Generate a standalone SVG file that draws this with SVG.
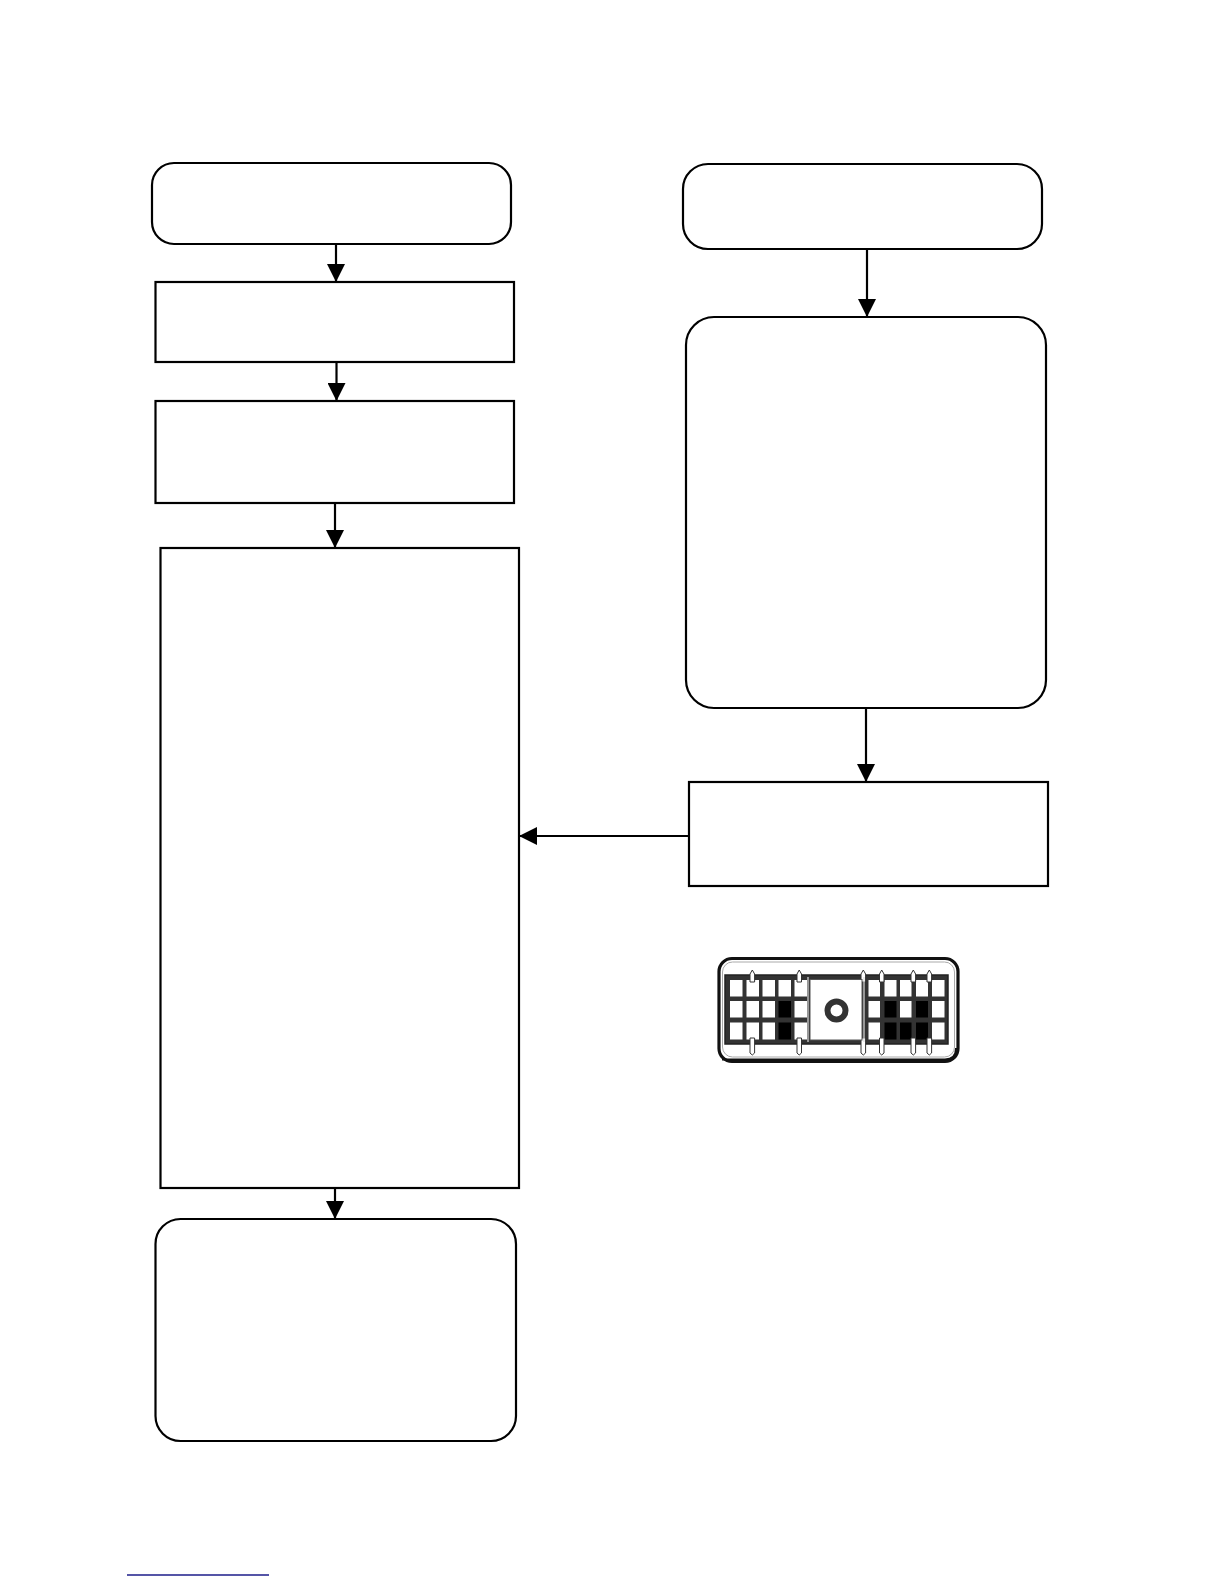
<svg xmlns="http://www.w3.org/2000/svg" width="1224" height="1584" viewBox="0 0 1224 1584">
<style>
.box{fill:#fff;stroke:#000;stroke-width:2.2}
.edge{fill:none;stroke:#000;stroke-width:2.2}
.cell{fill:#fff}
.blk{fill:#000}
.peg{fill:#fff;stroke:#333;stroke-width:1}
</style>
<defs>
<marker id="arr" markerUnits="userSpaceOnUse" markerWidth="18" markerHeight="18" refX="17" refY="9" orient="auto">
<path d="M0,0 L18,9 L0,18 z" fill="#000"/>
</marker>
</defs>
<rect width="1224" height="1584" fill="#fff"/>
<g id="n1"><rect class="box" x="152" y="163" width="359" height="81" rx="22"/></g>
<g id="n2"><rect class="box" x="155.5" y="282" width="358.5" height="80"/></g>
<g id="n3"><rect class="box" x="155.5" y="401" width="358.5" height="102"/></g>
<g id="n4"><rect class="box" x="160.5" y="548" width="358.5" height="640"/></g>
<g id="n5"><rect class="box" x="155.5" y="1219" width="360.5" height="222" rx="25"/></g>
<g id="n6"><rect class="box" x="683" y="164" width="359" height="85" rx="25"/></g>
<g id="n7"><rect class="box" x="686" y="317" width="360" height="391" rx="28"/></g>
<g id="n8"><rect class="box" x="689" y="782" width="359" height="104"/></g>
<g id="connectors">
<line class="edge" x1="336" y1="244" x2="336" y2="281" marker-end="url(#arr)"/>
<line class="edge" x1="336.5" y1="362" x2="336.5" y2="400" marker-end="url(#arr)"/>
<line class="edge" x1="335" y1="503" x2="335" y2="547" marker-end="url(#arr)"/>
<line class="edge" x1="335" y1="1188" x2="335" y2="1218" marker-end="url(#arr)"/>
<line class="edge" x1="867" y1="249" x2="867" y2="316" marker-end="url(#arr)"/>
<line class="edge" x1="866" y1="708" x2="866" y2="781" marker-end="url(#arr)"/>
<line class="edge" x1="689" y1="836" x2="520" y2="836" marker-end="url(#arr)"/>
</g>
<g id="connector-icon">
<rect x="719" y="958.5" width="239" height="103" rx="13" fill="#fff" stroke="#111" stroke-width="3.2"/>
<path d="M722,1059.5 H945 Q956,1059.5 956,1048" fill="none" stroke="#111" stroke-width="2"/>
<rect x="722.5" y="962" width="232" height="95" rx="10" fill="none" stroke="#aaa" stroke-width="1"/>
<rect x="725" y="975" width="223" height="69" fill="#333" stroke="#222" stroke-width="1.5"/>
<g class="cells">
<rect class="cell" x="730" y="980" width="12.5" height="16.5"/>
<rect class="cell" x="746.5" y="980" width="12.5" height="16.5"/>
<rect class="cell" x="762.5" y="980" width="12.5" height="16.5"/>
<rect class="cell" x="778.5" y="980" width="12.5" height="16.5"/>
<rect class="cell" x="794.5" y="980" width="12.5" height="16.5"/>
<rect class="cell" x="730" y="1001" width="12.5" height="16.5"/>
<rect class="cell" x="746.5" y="1001" width="12.5" height="16.5"/>
<rect class="cell" x="762.5" y="1001" width="12.5" height="16.5"/>
<rect class="blk" x="778.5" y="1001" width="12.5" height="16.5"/>
<rect class="cell" x="794.5" y="1001" width="12.5" height="16.5"/>
<rect class="cell" x="730" y="1022.5" width="12.5" height="17"/>
<rect class="cell" x="746.5" y="1022.5" width="12.5" height="17"/>
<rect class="cell" x="762.5" y="1022.5" width="12.5" height="17"/>
<rect class="blk" x="778.5" y="1022.5" width="12.5" height="17"/>
<rect class="cell" x="794.5" y="1022.5" width="12.5" height="17"/>
<rect class="cell" x="868.5" y="980" width="11.5" height="16.5"/>
<rect class="cell" x="884.5" y="980" width="12" height="16.5"/>
<rect class="cell" x="900" y="980" width="11.5" height="16.5"/>
<rect class="cell" x="916" y="980" width="12" height="16.5"/>
<rect class="cell" x="932" y="980" width="12.5" height="16.5"/>
<rect class="cell" x="868.5" y="1001" width="11.5" height="16.5"/>
<rect class="blk" x="884.5" y="1001" width="12" height="16.5"/>
<rect class="cell" x="900" y="1001" width="11.5" height="16.5"/>
<rect class="blk" x="916" y="1001" width="12" height="16.5"/>
<rect class="cell" x="932" y="1001" width="12.5" height="16.5"/>
<rect class="cell" x="868.5" y="1022.5" width="11.5" height="17"/>
<rect class="blk" x="884.5" y="1022.5" width="12" height="17"/>
<rect class="blk" x="900" y="1022.5" width="11.5" height="17"/>
<rect class="blk" x="916" y="1022.5" width="12" height="17"/>
<rect class="cell" x="932" y="1022.5" width="12.5" height="17"/>
</g>
<g class="pegs">
<path class="peg" d="M750,982 V974 L752.3,970 L754.6,974 V982 Z"/>
<path class="peg" d="M797,982 V974 L799.2,970 L801.5,974 V982 Z"/>
<path class="peg" d="M861,982 V974 L863.3,970 L865.6,974 V982 Z"/>
<path class="peg" d="M879.5,982 V974 L881.7,970 L884,974 V982 Z"/>
<path class="peg" d="M911,982 V974 L913.3,970 L915.6,974 V982 Z"/>
<path class="peg" d="M927,982 V974 L929.3,970 L931.6,974 V982 Z"/>
<path class="peg" d="M750,1038 V1053 L752.3,1055 L754.6,1053 V1038 Z"/>
<path class="peg" d="M797,1038 V1053 L799.2,1055 L801.5,1053 V1038 Z"/>
<path class="peg" d="M861,1038 V1053 L863.3,1055 L865.6,1053 V1038 Z"/>
<path class="peg" d="M879.5,1038 V1053 L881.7,1055 L884,1053 V1038 Z"/>
<path class="peg" d="M911,1038 V1053 L913.3,1055 L915.6,1053 V1038 Z"/>
<path class="peg" d="M927,1038 V1053 L929.3,1055 L931.6,1053 V1038 Z"/>
</g>
<rect x="810" y="979.5" width="52" height="60.5" fill="#fff" stroke="#555" stroke-width="1"/>
<line x1="808" y1="977" x2="808" y2="1042" stroke="#ddd" stroke-width="1.2"/>
<line x1="864" y1="977" x2="864" y2="1042" stroke="#ddd" stroke-width="1.2"/>
<circle cx="836.5" cy="1010.5" r="9" fill="#fff" stroke="#333" stroke-width="6"/>
</g>
<line id="footer-rule" x1="127" y1="1575" x2="269" y2="1575" stroke="#1c1c8a" stroke-width="1.6"/>
</svg>
